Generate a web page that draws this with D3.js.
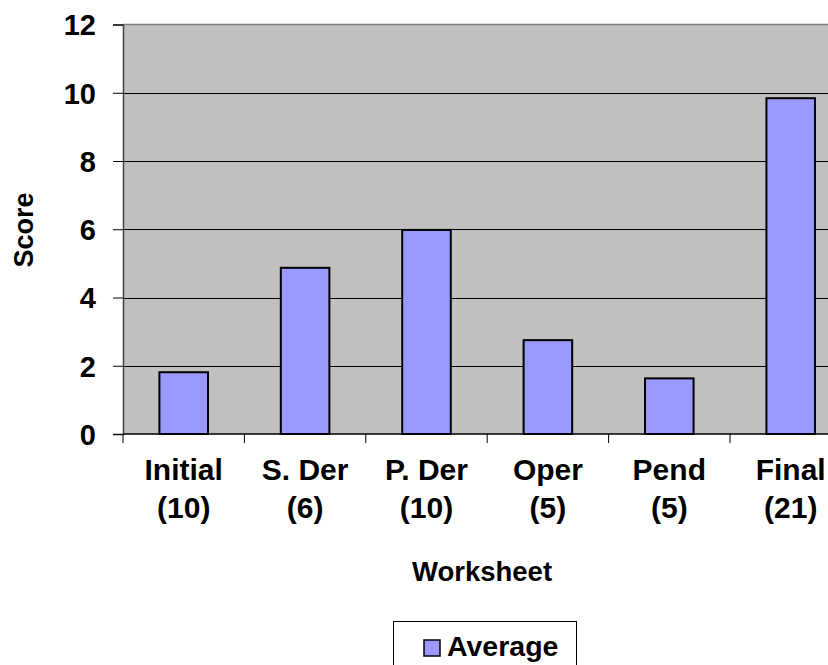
<!DOCTYPE html>
<html>
<head>
<meta charset="utf-8">
<script src="https://cdn.jsdelivr.net/npm/d3@7"></script>
<style>
  body { margin: 0; background: #fff; }
  svg text { font-family: "Liberation Sans", Arial, sans-serif; font-weight: bold; fill: #000; }
</style>
</head>
<body>
<div id="chart"></div>
<script>
// data
var categories = ["Initial", "S. Der", "P. Der", "Oper", "Pend", "Final"];
var counts = [10, 6, 10, 5, 5, 21];
var average = [1.81, 4.87, 5.98, 2.75, 1.63, 9.84];
var yTicks = [0, 2, 4, 6, 8, 10, 12];

var width = 828, height = 665;
var plot = { left: 123, right: 851.4, top: 24.5, bottom: 434 };

var svg = d3.select("#chart").append("svg")
    .attr("width", width)
    .attr("height", height);

var x = d3.scaleBand()
    .domain(categories)
    .range([plot.left, plot.right])
    .padding(0);

var y = d3.scaleLinear()
    .domain([0, 12])
    .range([plot.bottom, plot.top]);

// plot background
svg.append("rect")
    .attr("x", plot.left)
    .attr("y", plot.top)
    .attr("width", plot.right - plot.left)
    .attr("height", plot.bottom - plot.top)
    .style("fill", "#c0c0c0");

// gridlines
svg.append("g")
    .selectAll("line")
    .data(yTicks.filter(function(d) { return d > 0 && d < 12; }))
    .enter().append("line")
    .attr("x1", plot.left)
    .attr("x2", plot.right)
    .attr("y1", function(d) { return Math.round(y(d)) + 0.5; })
    .attr("y2", function(d) { return Math.round(y(d)) + 0.5; })
    .style("stroke", "#000")
    .style("stroke-width", 1);

// top border
svg.append("line")
    .attr("x1", plot.left).attr("x2", plot.right)
    .attr("y1", plot.top).attr("y2", plot.top)
    .style("stroke", "#808080")
    .style("stroke-width", 1.5);

// bars
var step = x.step();
svg.append("g")
    .selectAll("rect")
    .data(categories)
    .enter().append("rect")
    .attr("x", function(d) { return x(d) + step * 0.3; })
    .attr("width", step * 0.4)
    .attr("y", function(d, i) { return y(average[i]); })
    .attr("height", function(d, i) { return y(0) - y(average[i]); })
    .style("fill", "#9999ff")
    .style("stroke", "#000")
    .style("stroke-width", 2);

// y axis
var yAxis = d3.axisLeft(y)
    .tickValues(yTicks)
    .tickSize(10)
    .tickPadding(17)
    .tickFormat(d3.format("d"));

var gy = svg.append("g")
    .attr("transform", "translate(" + plot.left + ",0)")
    .call(yAxis);
gy.select(".domain").style("stroke", "#404040").style("stroke-width", 1.5);
gy.selectAll(".tick line").style("stroke", "#000");
gy.selectAll(".tick text")
    .style("font-size", "29px")
    .style("font-family", "'Liberation Sans', Arial, sans-serif")
    .style("font-weight", "bold")
    .attr("dy", "0.36em");

// x axis (boundary ticks)
var gx = svg.append("g");
gx.append("line")
    .attr("x1", plot.left).attr("x2", plot.right)
    .attr("y1", plot.bottom).attr("y2", plot.bottom)
    .style("stroke", "#000")
    .style("stroke-width", 1.5);
gx.selectAll(".bt")
    .data(categories.concat(["end"]))
    .enter().append("line")
    .attr("class", "bt")
    .attr("x1", function(d, i) { return plot.left + i * step; })
    .attr("x2", function(d, i) { return plot.left + i * step; })
    .attr("y1", plot.bottom)
    .attr("y2", plot.bottom + 9)
    .style("stroke", "#000");

// category labels
var labels = svg.append("g")
    .selectAll("text")
    .data(categories)
    .enter().append("text")
    .attr("text-anchor", "middle")
    .style("font-size", "30px");
labels.append("tspan")
    .attr("x", function(d) { return x(d) + step / 2; })
    .attr("y", 480)
    .text(function(d) { return d; });
labels.append("tspan")
    .attr("x", function(d) { return x(d) + step / 2; })
    .attr("y", 518)
    .text(function(d, i) { return "(" + counts[i] + ")"; });

// axis titles
svg.append("text")
    .attr("x", 482)
    .attr("y", 581)
    .attr("text-anchor", "middle")
    .style("font-size", "27.5px")
    .text("Worksheet");

svg.append("text")
    .attr("transform", "translate(33,230) rotate(-90)")
    .attr("text-anchor", "middle")
    .style("font-size", "27px")
    .text("Score");

// legend
var legend = svg.append("g");
legend.append("rect")
    .attr("x", 393.5)
    .attr("y", 621.5)
    .attr("width", 183)
    .attr("height", 60)
    .style("fill", "#fff")
    .style("stroke", "#000")
    .style("stroke-width", 1);
legend.append("rect")
    .attr("x", 424)
    .attr("y", 640)
    .attr("width", 16)
    .attr("height", 16)
    .style("fill", "#9999ff")
    .style("stroke", "#000")
    .style("stroke-width", 1.5);
legend.append("text")
    .attr("x", 447)
    .attr("y", 656)
    .style("font-size", "28.5px")
    .text("Average");
</script>
</body>
</html>
